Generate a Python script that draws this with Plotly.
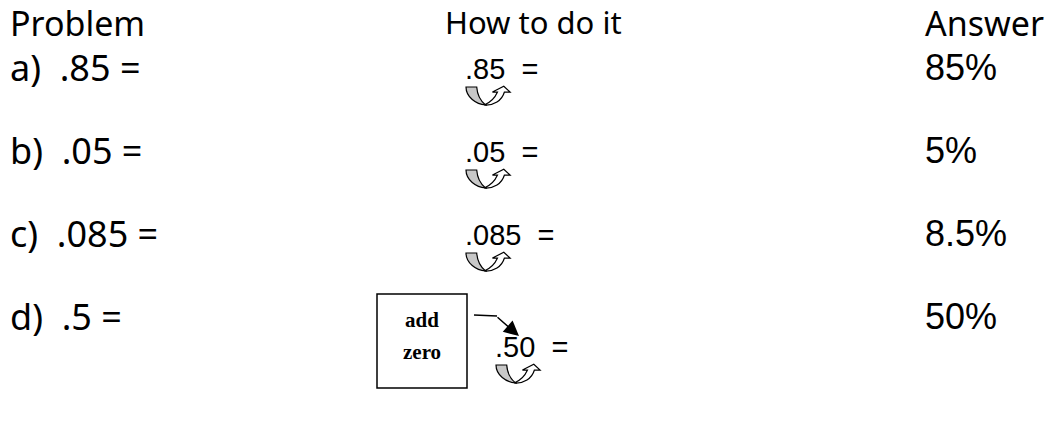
import plotly.graph_objects as go

# ---- content ----
headers = ["Problem", "How to do it", "Answer"]
labels = ["a)", "b)", "c)", "d)"]
decimals = [".85", ".05", ".085", ".5"]
worked = [".85", ".05", ".085", ".50"]
answers = ["85%", "5%", "8.5%", "50%"]
note_lines = ["add", "zero"]

NB = "\u00a0"
W, H = 1055, 434
COMIC = "Comic Sans MS, Noto Sans, sans-serif"
ARIAL = "Arial, Liberation Sans, sans-serif"
SERIF = "Times New Roman, Liberation Serif, serif"

# layout constants (pixels)
head_x = [0, 435, 915]
head_size = [34, 31, 34]
head_shift = [10, 9, 10]
col_x = [0, 455, 915]
row_y0, row_step = 59, 83
mid_dx = [0, 0, 0, 30]     # the ".50" row sits right of the note box
mid_dy = [2, 2, 2, 31]
font_main = 36
font_mid = 29
font_ans = 36
sx, sy = 0.63, 0.72

fig = go.Figure()
ann = []
shapes = []

for cx, h, fs, sh in zip(head_x, headers, head_size, head_shift):
    ann.append(dict(x=cx, y=0, text=h, xanchor="left", yanchor="top", yshift=sh,
                    showarrow=False, font=dict(family=COMIC, size=fs, color="black")))

for i, (lab, dec, wk, a) in enumerate(zip(labels, decimals, worked, answers)):
    yc = row_y0 + i * row_step
    ann.append(dict(x=col_x[0], y=yc, text=f"{lab}{NB}{NB}{dec}{NB}=",
                    xanchor="left", yanchor="middle", showarrow=False,
                    font=dict(family=COMIC, size=font_main, color="black")))
    mx, my = col_x[1] + mid_dx[i], yc + mid_dy[i]
    ann.append(dict(x=mx, y=my, text=f"{wk}{NB}{NB}=",
                    xanchor="left", yanchor="middle", showarrow=False,
                    font=dict(family=ARIAL, size=font_mid, color="black")))
    ann.append(dict(x=col_x[2], y=yc, text=a,
                    xanchor="left", yanchor="middle", showarrow=False,
                    font=dict(family=ARIAL, size=font_ans, color="black")))
    # curved "move the decimal" arrow under the number
    ox, oy = mx + 3, my + 18

    def P(dx, dy):
        return f"{ox + dx * sx:.2f},{oy + dy * sy:.2f}"
    gray = (f"M {P(0,0)} L {P(17,0)} C {P(18,12)} {P(24,20)} {P(31,25)} "
            f"C {P(16,24)} {P(0,14)} {P(0,0)} Z")
    shapes.append(dict(type="path", path=gray, xref="x", yref="y",
                       fillcolor="#c8c8c8", line=dict(color="black", width=1.2)))
    white = (f"M {P(29,25)} C {P(44,26)} {P(57,19)} {P(61,7)} L {P(70,7)} L {P(60,-1)} "
             f"L {P(42,7)} L {P(50,7)} C {P(46,15)} {P(40,21)} {P(29,25)} Z")
    shapes.append(dict(type="path", path=white, xref="x", yref="y",
                       fillcolor="white", line=dict(color="black", width=1.2)))

# "add zero" box and arrow
bx0, bx1, by0, by1 = 369, 459, 286, 380
shapes.append(dict(type="rect", x0=bx0, x1=bx1, y0=by0, y1=by1, xref="x", yref="y",
                   line=dict(color="black", width=1.5), fillcolor="rgba(0,0,0,0)"))
for j, t in enumerate(note_lines):
    ann.append(dict(x=(bx0 + bx1) / 2, y=312 + j * 32, text=f"<b>{t}</b>", xanchor="center",
                    yanchor="middle", showarrow=False,
                    font=dict(family=SERIF, size=21, color="black")))
shapes.append(dict(type="line", x0=466, y0=307, x1=489, y1=308, xref="x", yref="y",
                   line=dict(color="black", width=1.5)))
ann.append(dict(x=511, y=328, ax=488, ay=308, axref="x", ayref="y", xref="x", yref="y",
                text="", showarrow=True, arrowhead=2, arrowsize=2.0, arrowwidth=1.5,
                arrowcolor="black"))

fig.update_layout(
    width=W, height=H, margin=dict(l=0, r=0, t=0, b=0),
    paper_bgcolor="white", plot_bgcolor="white",
    xaxis=dict(range=[0, W], visible=False, fixedrange=True),
    yaxis=dict(range=[H, 0], visible=False, fixedrange=True),
    annotations=ann, shapes=shapes, showlegend=False,
)
fig.write_html("out.html")
